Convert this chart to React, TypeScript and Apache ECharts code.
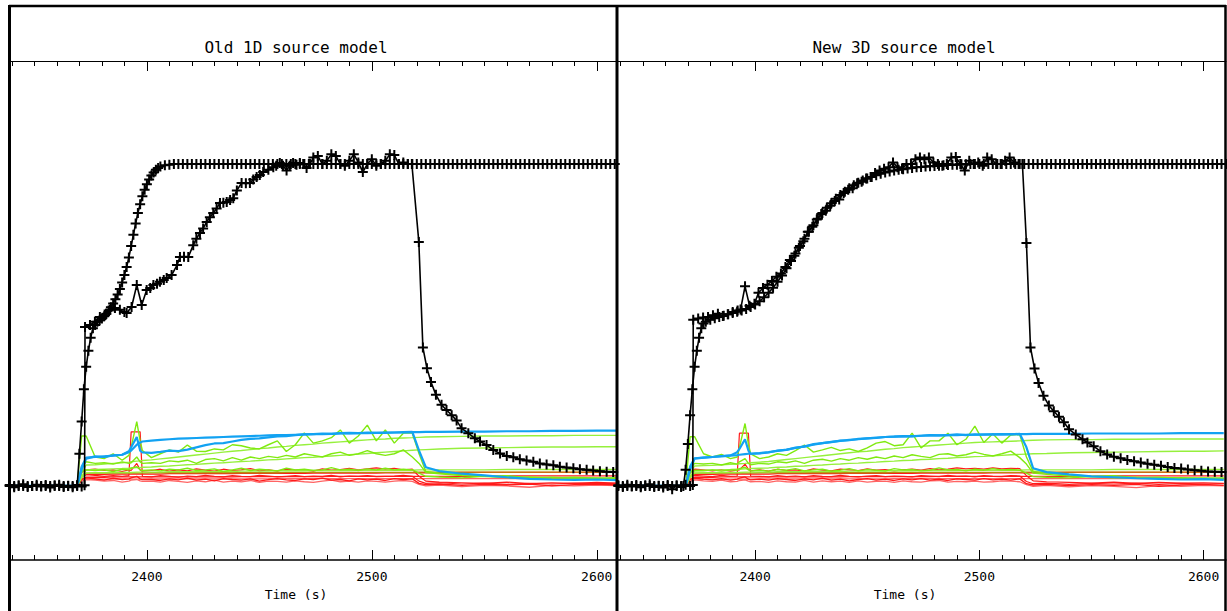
import React, { useEffect, useRef } from "react";
import * as echarts from "echarts";

// ---------- axis / text data ----------
const panelTitles = ["Old 1D source model", "New 3D source model"];
const axisTitle = "Time (s)";
const majorTicks = [2400, 2500, 2600];
const minorTicks = [2340, 2350, 2360, 2370, 2380, 2390, 2410, 2420, 2430, 2440, 2450, 2460, 2470, 2480, 2490, 2510, 2520, 2530, 2540, 2550, 2560, 2570, 2580, 2590];
const leftRange = [2338.7, 2609];
const rightRange = [2338.4, 2610];
const yRange = [-0.23, 1.32];

// ---------- time base of the coloured traces ----------
const colorT = [
  2339, 2369, 2371, 2373,
  2377, 2381, 2385, 2389, 2392, 2393, 2395.5, 2397, 2398,
  2402, 2406, 2410, 2414, 2418, 2422, 2426, 2430, 2434, 2438, 2442, 2446, 2450, 2454, 2458, 2462, 2466, 2470, 2474, 2478, 2482, 2486, 2490, 2494, 2498, 2502, 2506, 2510, 2514, 2518,
  2521, 2524, 2530, 2540, 2550, 2560, 2570, 2580, 2590, 2600, 2609,
];

// ---------- left panel, coloured ----------
const blueModelL = [
  0, 0, 0.06, 0.088,
  0.09, 0.092, 0.094, 0.097, 0.105, 0.11, 0.128, 0.135, 0.138,
  0.141, 0.143, 0.145, 0.147, 0.148, 0.149, 0.15, 0.151, 0.152, 0.153, 0.154, 0.155, 0.156, 0.157, 0.158, 0.158, 0.159, 0.16, 0.161, 0.161, 0.162, 0.163, 0.163, 0.164, 0.164, 0.165, 0.165, 0.166, 0.166, 0.167,
  0.167, 0.168, 0.168, 0.169, 0.169, 0.17, 0.17, 0.171, 0.171, 0.172, 0.172,
];
const blueDataL = [
  0, 0, 0.05, 0.085,
  0.092, 0.09, 0.095, 0.097, 0.108, 0.12, 0.152, 0.11, 0.104,
  0.103, 0.106, 0.11, 0.108, 0.113, 0.12, 0.127, 0.132, 0.133, 0.138, 0.143, 0.146, 0.148, 0.151, 0.154, 0.155, 0.158, 0.16, 0.161, 0.163, 0.162, 0.164, 0.165, 0.164, 0.166, 0.165, 0.166, 0.166, 0.167, 0.168,
  0.11, 0.058, 0.046, 0.038, 0.033, 0.027, 0.022, 0.02, 0.019, 0.02, 0.018,
];
const greenData1L = [
  0, 0, 0.155, 0.155,
  0.09, 0.085, 0.1, 0.08, 0.095, 0.12, 0.2, 0.14, 0.11,
  0.088, 0.1, 0.112, 0.105, 0.127, 0.108, 0.107, 0.115, 0.112, 0.128, 0.125, 0.118, 0.115, 0.128, 0.14, 0.107, 0.128, 0.165, 0.133, 0.14, 0.15, 0.174, 0.133, 0.155, 0.189, 0.14, 0.174, 0.133, 0.164, 0.164,
  0.1, 0.045, 0.04, 0.035, 0.03, 0.032, 0.025, 0.027, 0.024, 0.025, 0.022,
];
const greenData2L = [
  0, 0, 0.06, 0.075,
  0.07, 0.072, 0.068, 0.075, 0.07, 0.072, 0.09, 0.075, 0.07,
  0.072, 0.07, 0.078, 0.075, 0.08, 0.07, 0.082, 0.085, 0.078, 0.088, 0.08, 0.09, 0.085, 0.092, 0.088, 0.095, 0.09, 0.1, 0.095, 0.09, 0.1, 0.105, 0.095, 0.1, 0.11, 0.1, 0.095, 0.1, 0.112, 0.09,
  0.07, 0.042, 0.038, 0.032, 0.03, 0.028, 0.025, 0.026, 0.024, 0.022, 0.023,
];
const greenData3L = [
  0, 0, 0.045, 0.05,
  0.048, 0.05, 0.045, 0.052, 0.05, 0.055, 0.06, 0.05, 0.048,
  0.05, 0.047, 0.052, 0.05, 0.055, 0.048, 0.05, 0.053, 0.045, 0.05, 0.055, 0.048, 0.052, 0.05, 0.047, 0.055, 0.05, 0.052, 0.048, 0.05, 0.057, 0.05, 0.052, 0.048, 0.053, 0.05, 0.055, 0.05, 0.052, 0.05,
  0.04, 0.03, 0.028, 0.025, 0.03, 0.026, 0.028, 0.025, 0.027, 0.024, 0.026,
];
const greenModel1L = [
  0, 0, 0.04, 0.065,
  0.066, 0.068, 0.07, 0.072, 0.074, 0.075, 0.077, 0.078, 0.079,
  0.081, 0.084, 0.087, 0.09, 0.093, 0.096, 0.099, 0.102, 0.105, 0.108, 0.11, 0.113, 0.116, 0.118, 0.121, 0.123, 0.126, 0.128, 0.13, 0.133, 0.135, 0.137, 0.139, 0.141, 0.143, 0.145, 0.146, 0.148, 0.149, 0.15,
  0.151, 0.152, 0.153, 0.154, 0.155, 0.155, 0.156, 0.156, 0.157, 0.157, 0.157,
];
const greenModel2L = [
  0, 0, 0.03, 0.05,
  0.051, 0.052, 0.053, 0.054, 0.055, 0.056, 0.057, 0.057, 0.058,
  0.059, 0.061, 0.062, 0.064, 0.066, 0.067, 0.069, 0.071, 0.072, 0.074, 0.076, 0.077, 0.079, 0.081, 0.082, 0.084, 0.086, 0.088, 0.089, 0.091, 0.093, 0.095, 0.097, 0.099, 0.101, 0.103, 0.105, 0.107, 0.109, 0.111,
  0.112, 0.113, 0.115, 0.117, 0.118, 0.119, 0.12, 0.121, 0.121, 0.122, 0.122,
];
const greenModel3 = [
  0, 0, 0.025, 0.04,
  0.041, 0.041, 0.042, 0.042, 0.042, 0.042, 0.043, 0.043, 0.043,
  0.043, 0.043, 0.044, 0.044, 0.044, 0.044, 0.045, 0.045, 0.045, 0.045, 0.046, 0.046, 0.046, 0.046, 0.047, 0.047, 0.047, 0.047, 0.048, 0.048, 0.048, 0.048, 0.048, 0.049, 0.049, 0.049, 0.049, 0.049, 0.049, 0.049,
  0.05, 0.05, 0.05, 0.05, 0.05, 0.051, 0.051, 0.051, 0.051, 0.051, 0.051,
];
const redBoxL = [
  0, 0, 0.03, 0.035,
  0.033, 0.03, 0.032, 0.03, 0.032, 0.168, 0.168, 0.168, 0.03,
  0.028, 0.032, 0.03, 0.027, 0.031, 0.029, 0.033, 0.03, 0.028, 0.032, 0.03, 0.029, 0.033, 0.031, 0.028, 0.03, 0.032, 0.029, 0.031, 0.03, 0.033, 0.028, 0.031, 0.03, 0.032, 0.029, 0.03, 0.031, 0.033, 0.03,
  0.015, 0.008, 0.01, 0.006, 0.009, 0.005, 0.008, 0.006, 0.009, 0.007, 0.008,
];
const redData1L = [
  0, 0, 0.04, 0.05,
  0.052, 0.048, 0.05, 0.045, 0.05, 0.048, 0.07, 0.05, 0.046,
  0.048, 0.052, 0.046, 0.05, 0.047, 0.053, 0.049, 0.046, 0.052, 0.048, 0.05, 0.054, 0.047, 0.05, 0.046, 0.052, 0.049, 0.05, 0.046, 0.053, 0.049, 0.051, 0.055, 0.05, 0.053, 0.056, 0.052, 0.055, 0.05, 0.052,
  0.03, 0.015, 0.012, 0.01, 0.008, 0.012, 0.007, 0.01, 0.008, 0.011, 0.009,
];
const redData2L = [
  0, 0, 0.02, 0.025,
  0.022, 0.018, 0.024, 0.02, 0.022, 0.025, 0.03, 0.022, 0.02,
  0.02, 0.017, 0.022, 0.019, 0.024, 0.018, 0.021, 0.016, 0.023, 0.02, 0.018, 0.022, 0.015, 0.02, 0.023, 0.019, 0.017, 0.022, 0.02, 0.024, 0.018, 0.02, 0.016, 0.022, 0.019, 0.021, 0.017, 0.023, 0.02, 0.022,
  0.008, 0.004, 0.006, 0.002, 0.005, 0.003, 0.006, 0.0, 0.004, 0.006, 0.003,
];
const redData3L = [
  0, 0, 0.015, 0.02,
  0.018, 0.015, 0.017, 0.012, 0.015, 0.018, 0.02, 0.016, 0.014,
  0.015, 0.012, 0.017, 0.014, 0.011, 0.016, 0.013, 0.018, 0.012, 0.015, 0.013, 0.017, 0.011, 0.015, 0.014, 0.012, 0.016, 0.013, 0.011, 0.015, 0.018, 0.013, 0.015, 0.012, 0.016, 0.014, 0.012, 0.015, 0.017, 0.014,
  0.005, 0.0, 0.003, -0.002, 0.002, 0.0, -0.004, 0.002, 0.0, 0.003, 0.001,
];
const redModel1 = [
  0, 0, 0.03, 0.036,
  0.036, 0.036, 0.037, 0.037, 0.037, 0.037, 0.037, 0.037, 0.037,
  0.037, 0.037, 0.038, 0.038, 0.038, 0.038, 0.038, 0.038, 0.038, 0.038, 0.039, 0.039, 0.039, 0.039, 0.039, 0.039, 0.039, 0.039, 0.04, 0.04, 0.04, 0.04, 0.04, 0.04, 0.04, 0.04, 0.041, 0.041, 0.041, 0.041,
  0.041, 0.041, 0.041, 0.042, 0.042, 0.042, 0.042, 0.042, 0.042, 0.042, 0.042,
];
const redModel2 = [
  0, 0, 0.022, 0.027,
  0.027, 0.027, 0.028, 0.028, 0.028, 0.028, 0.028, 0.028, 0.028,
  0.028, 0.028, 0.028, 0.028, 0.028, 0.028, 0.028, 0.028, 0.028, 0.028, 0.029, 0.029, 0.029, 0.029, 0.029, 0.029, 0.029, 0.029, 0.029, 0.029, 0.03, 0.03, 0.03, 0.03, 0.03, 0.03, 0.03, 0.03, 0.03, 0.03,
  0.03, 0.03, 0.03, 0.03, 0.03, 0.031, 0.031, 0.031, 0.031, 0.031, 0.031,
];
const redModel3 = [
  0, 0, 0.018, 0.021,
  0.021, 0.021, 0.021, 0.021, 0.021, 0.021, 0.021, 0.021, 0.021,
  0.022, 0.022, 0.022, 0.022, 0.022, 0.022, 0.022, 0.022, 0.022, 0.022, 0.022, 0.022, 0.022, 0.022, 0.022, 0.023, 0.023, 0.023, 0.023, 0.023, 0.023, 0.023, 0.023, 0.023, 0.023, 0.023, 0.023, 0.023, 0.023, 0.023,
  0.023, 0.023, 0.023, 0.023, 0.023, 0.023, 0.023, 0.023, 0.023, 0.023, 0.023,
];
const oliveModel = [
  0, 0, 0.03, 0.04,
  0.04, 0.04, 0.04, 0.04, 0.04, 0.04, 0.04, 0.04, 0.04,
  0.041, 0.041, 0.041, 0.041, 0.041, 0.041, 0.041, 0.041, 0.041, 0.041, 0.041, 0.041, 0.041, 0.041, 0.041, 0.042, 0.042, 0.042, 0.042, 0.042, 0.042, 0.042, 0.042, 0.042, 0.042, 0.042, 0.042, 0.042, 0.042, 0.042,
  0.043, 0.043, 0.043, 0.043, 0.043, 0.043, 0.043, 0.043, 0.043, 0.043, 0.043,
];

// ---------- right panel, coloured ----------
const blueModelR = [
  0, 0, 0.06, 0.086,
  0.088, 0.09, 0.092, 0.094, 0.096, 0.097, 0.099, 0.1, 0.1,
  0.102, 0.105, 0.109, 0.113, 0.118, 0.123, 0.128, 0.133, 0.137, 0.14, 0.143, 0.145, 0.148, 0.15, 0.152, 0.153, 0.154, 0.155, 0.156, 0.157, 0.157, 0.158, 0.158, 0.159, 0.159, 0.16, 0.16, 0.16, 0.161, 0.161,
  0.161, 0.162, 0.162, 0.162, 0.163, 0.163, 0.163, 0.163, 0.164, 0.164, 0.164,
];
const blueDataR = [
  0, 0, 0.05, 0.085,
  0.088, 0.09, 0.093, 0.095, 0.105, 0.115, 0.145, 0.11, 0.1,
  0.101, 0.104, 0.11, 0.112, 0.119, 0.122, 0.13, 0.133, 0.136, 0.141, 0.142, 0.146, 0.148, 0.149, 0.152, 0.153, 0.155, 0.154, 0.156, 0.158, 0.157, 0.158, 0.16, 0.158, 0.16, 0.159, 0.16, 0.161, 0.16, 0.162,
  0.12, 0.055, 0.043, 0.036, 0.03, 0.027, 0.024, 0.022, 0.02, 0.021, 0.019,
];
const greenData1R = [
  0, 0, 0.153, 0.153,
  0.1, 0.09, 0.098, 0.085, 0.09, 0.12, 0.194, 0.13, 0.1,
  0.085, 0.09, 0.1, 0.095, 0.11, 0.127, 0.105, 0.112, 0.12, 0.11, 0.115, 0.107, 0.118, 0.133, 0.138, 0.125, 0.128, 0.164, 0.118, 0.14, 0.14, 0.164, 0.128, 0.145, 0.186, 0.135, 0.162, 0.133, 0.158, 0.16,
  0.09, 0.045, 0.04, 0.035, 0.03, 0.032, 0.026, 0.027, 0.024, 0.025, 0.023,
];
const greenData2R = [
  0, 0, 0.055, 0.07,
  0.068, 0.07, 0.065, 0.072, 0.068, 0.075, 0.085, 0.07, 0.066,
  0.07, 0.068, 0.075, 0.072, 0.078, 0.07, 0.08, 0.083, 0.077, 0.085, 0.08, 0.088, 0.083, 0.09, 0.085, 0.093, 0.088, 0.097, 0.092, 0.088, 0.098, 0.1, 0.093, 0.097, 0.105, 0.098, 0.093, 0.1, 0.108, 0.088,
  0.068, 0.04, 0.036, 0.031, 0.029, 0.027, 0.025, 0.026, 0.023, 0.022, 0.022,
];
const greenData3R = [
  0, 0, 0.043, 0.048,
  0.047, 0.05, 0.046, 0.05, 0.049, 0.054, 0.058, 0.05, 0.047,
  0.049, 0.046, 0.051, 0.049, 0.054, 0.047, 0.05, 0.052, 0.046, 0.049, 0.054, 0.047, 0.051, 0.049, 0.046, 0.054, 0.05, 0.051, 0.047, 0.049, 0.056, 0.05, 0.051, 0.047, 0.052, 0.049, 0.054, 0.05, 0.051, 0.049,
  0.04, 0.029, 0.027, 0.025, 0.029, 0.025, 0.027, 0.024, 0.026, 0.023, 0.025,
];
const greenModel1R = [
  0, 0, 0.04, 0.062,
  0.063, 0.064, 0.066, 0.067, 0.068, 0.069, 0.07, 0.071, 0.072,
  0.074, 0.076, 0.079, 0.082, 0.085, 0.088, 0.091, 0.094, 0.097, 0.1, 0.103, 0.106, 0.108, 0.111, 0.114, 0.116, 0.119, 0.121, 0.123, 0.125, 0.127, 0.129, 0.131, 0.133, 0.135, 0.136, 0.137, 0.138, 0.139, 0.14,
  0.141, 0.142, 0.143, 0.144, 0.144, 0.145, 0.145, 0.146, 0.146, 0.146, 0.146,
];
const greenModel2R = [
  0, 0, 0.03, 0.048,
  0.049, 0.05, 0.05, 0.051, 0.052, 0.052, 0.053, 0.053, 0.054,
  0.055, 0.056, 0.058, 0.059, 0.061, 0.062, 0.064, 0.065, 0.067, 0.068, 0.07, 0.071, 0.073, 0.074, 0.076, 0.077, 0.079, 0.08, 0.082, 0.083, 0.085, 0.086, 0.088, 0.089, 0.091, 0.092, 0.094, 0.095, 0.097, 0.098,
  0.099, 0.1, 0.101, 0.103, 0.104, 0.105, 0.106, 0.107, 0.108, 0.108, 0.109,
];
const redBoxR = [
  0, 0, 0.028, 0.033,
  0.031, 0.029, 0.033, 0.03, 0.031, 0.164, 0.164, 0.164, 0.031,
  0.03, 0.028, 0.032, 0.029, 0.031, 0.028, 0.032, 0.03, 0.029, 0.033, 0.03, 0.028, 0.031, 0.032, 0.029, 0.031, 0.03, 0.028, 0.032, 0.031, 0.029, 0.033, 0.03, 0.031, 0.028, 0.032, 0.03, 0.029, 0.032, 0.031,
  0.014, 0.007, 0.009, 0.005, 0.008, 0.006, 0.009, 0.005, 0.008, 0.006, 0.007,
];
const redData1R = [
  0, 0, 0.04, 0.052,
  0.05, 0.047, 0.051, 0.046, 0.049, 0.05, 0.068, 0.052, 0.047,
  0.05, 0.046, 0.052, 0.048, 0.05, 0.046, 0.053, 0.049, 0.047, 0.052, 0.05, 0.048, 0.053, 0.049, 0.051, 0.047, 0.05, 0.052, 0.049, 0.054, 0.05, 0.052, 0.056, 0.053, 0.055, 0.052, 0.056, 0.053, 0.055, 0.054,
  0.032, 0.016, 0.013, 0.011, 0.009, 0.012, 0.008, 0.011, 0.009, 0.01, 0.008,
];
const redData2R = [
  0, 0, 0.02, 0.024,
  0.021, 0.019, 0.023, 0.018, 0.021, 0.024, 0.028, 0.021, 0.019,
  0.021, 0.018, 0.023, 0.02, 0.017, 0.022, 0.019, 0.024, 0.018, 0.021, 0.016, 0.02, 0.023, 0.018, 0.021, 0.017, 0.022, 0.019, 0.023, 0.018, 0.021, 0.017, 0.022, 0.02, 0.018, 0.023, 0.019, 0.021, 0.018, 0.022,
  0.007, 0.003, 0.005, 0.001, 0.004, 0.002, 0.005, -0.001, 0.003, 0.005, 0.002,
];
const redData3R = [
  0, 0, 0.014, 0.019,
  0.016, 0.014, 0.018, 0.013, 0.014, 0.017, 0.019, 0.015, 0.013,
  0.014, 0.011, 0.016, 0.013, 0.012, 0.017, 0.012, 0.016, 0.013, 0.015, 0.011, 0.016, 0.012, 0.014, 0.015, 0.011, 0.016, 0.013, 0.012, 0.016, 0.017, 0.012, 0.014, 0.013, 0.015, 0.012, 0.013, 0.016, 0.015, 0.013,
  0.004, -0.001, 0.002, -0.003, 0.001, -0.001, -0.005, 0.001, -0.001, 0.002, 0.0,
];

// ---------- black traces: [time, value] ----------
const leftModelPts = [
  [2339, 0], [2341, 0], [2343, 0], [2345, 0], [2347, 0], [2349, 0], [2351, 0], [2353, 0], [2355, 0], [2357, 0], [2359, 0], [2361, 0], [2363, 0], [2365, 0], [2367, 0], [2369, 0],
  [2370, 0.1], [2371, 0.2], [2372, 0.3], [2373, 0.37], [2374, 0.42], [2375, 0.46], [2376, 0.49], [2377, 0.5], [2378, 0.51], [2379, 0.515], [2380, 0.52], [2381, 0.527], [2382, 0.535], [2383, 0.545], [2384, 0.555], [2385, 0.567], [2386, 0.58], [2387, 0.595], [2388, 0.612], [2389, 0.632], [2390, 0.655], [2391, 0.68], [2392, 0.71], [2393, 0.745], [2394, 0.78], [2395, 0.815], [2396, 0.848], [2397, 0.875], [2398, 0.9], [2399, 0.92], [2400, 0.937], [2401, 0.952], [2402, 0.964], [2403, 0.974], [2404, 0.982], [2405, 0.988], [2406, 0.992], [2408, 0.996], [2410, 0.998], [2412, 1],
  [2414, 1], [2416, 1], [2418, 1], [2420, 1], [2422, 1], [2424, 1], [2426, 1], [2428, 1], [2430, 1], [2432, 1], [2434, 1], [2436, 1], [2438, 1], [2440, 1], [2442, 1], [2444, 1], [2446, 1], [2448, 1], [2450, 1], [2452, 1], [2454, 1], [2456, 1], [2458, 1], [2460, 1], [2462, 1], [2464, 1], [2466, 1], [2468, 1], [2470, 1], [2472, 1], [2474, 1], [2476, 1], [2478, 1], [2480, 1], [2482, 1], [2484, 1], [2486, 1], [2488, 1], [2490, 1], [2492, 1], [2494, 1], [2496, 1], [2498, 1], [2500, 1], [2502, 1], [2504, 1], [2506, 1], [2508, 1], [2510, 1], [2512, 1], [2514, 1], [2516, 1], [2518, 1], [2520, 1], [2522, 1], [2524, 1], [2526, 1], [2528, 1], [2530, 1], [2532, 1], [2534, 1], [2536, 1], [2538, 1], [2540, 1], [2542, 1], [2544, 1], [2546, 1], [2548, 1], [2550, 1], [2552, 1], [2554, 1], [2556, 1], [2558, 1], [2560, 1], [2562, 1], [2564, 1], [2566, 1], [2568, 1], [2570, 1], [2572, 1], [2574, 1], [2576, 1], [2578, 1], [2580, 1], [2582, 1], [2584, 1], [2586, 1], [2588, 1], [2590, 1], [2592, 1], [2594, 1], [2596, 1], [2598, 1], [2600, 1], [2602, 1], [2604, 1], [2606, 1], [2608, 1],
];
const leftDataPts = [
  [2339, 0.003], [2341, -0.004], [2343, 0.002], [2345, 0.005], [2347, -0.003], [2349, 0], [2351, 0.004], [2353, -0.002], [2355, 0.003], [2357, -0.005], [2359, 0.002], [2361, 0.004], [2363, -0.003], [2365, 0.001], [2367, -0.004], [2369, 0.003], [2371, -0.002], [2372.3, 0.002],
  [2372.5, 0.494], [2374.7, 0.5], [2376.9, 0.51], [2379.1, 0.525], [2381.4, 0.53], [2383.6, 0.547], [2385.8, 0.553], [2388, 0.547], [2390, 0.54], [2391, 0.537], [2393.2, 0.556], [2395.5, 0.624], [2397.7, 0.562], [2399.9, 0.609], [2401.5, 0.615], [2402.9, 0.624], [2404.5, 0.628], [2405.8, 0.634], [2407.5, 0.64], [2408.8, 0.646], [2411, 0.655], [2413.4, 0.686], [2414.7, 0.711], [2416.5, 0.712], [2418.4, 0.711], [2420.6, 0.748], [2422, 0.768], [2423.6, 0.786], [2425, 0.8], [2426.6, 0.82], [2428, 0.835], [2429.5, 0.848], [2431, 0.862], [2432.5, 0.879], [2434, 0.88], [2435.5, 0.882], [2437, 0.888], [2438.4, 0.894], [2440, 0.918], [2442.1, 0.941], [2444, 0.94], [2445.8, 0.941], [2447.3, 0.952], [2448.8, 0.96], [2450.2, 0.966], [2451.7, 0.975], [2454, 0.982], [2456.2, 0.99], [2457.5, 0.995], [2459.1, 1.003], [2460.5, 0.995], [2462.1, 0.98], [2463.5, 0.995], [2465, 1.003], [2466.5, 0.998], [2468, 1.003], [2469.5, 1.0], [2471, 0.988], [2472.5, 1.0], [2474, 1.02], [2476, 1.025], [2478, 1.0], [2480, 1.01], [2482, 1.03], [2484, 1.025], [2486, 1.0], [2488, 0.995], [2490, 1.01], [2492, 1.03], [2494, 1.005], [2496, 0.975], [2498, 1.0], [2500, 1.015], [2502, 0.995], [2504, 1.0], [2506, 1.01], [2508, 1.03], [2510, 1.028], [2512, 1.0], [2514, 1.005], [2516, 1.0], [2517.8, 1.0],
  [2520.9, 0.758], [2522.7, 0.43], [2524.5, 0.366], [2526.3, 0.323], [2528.5, 0.283], [2531, 0.252], [2533.2, 0.236], [2535.5, 0.22], [2537.7, 0.203], [2539.9, 0.179], [2542.9, 0.164], [2545.8, 0.148], [2548.1, 0.138], [2551, 0.127], [2554, 0.112], [2557, 0.101], [2560, 0.093], [2562.9, 0.089], [2565.8, 0.083], [2568.8, 0.079], [2571.8, 0.075], [2574.7, 0.07], [2577.7, 0.067], [2580.7, 0.064], [2583.6, 0.06], [2586.6, 0.057], [2589.6, 0.055], [2592.5, 0.052], [2595.5, 0.05], [2598.4, 0.048], [2601.4, 0.046], [2604.4, 0.044], [2607.3, 0.043],
];
const rightModelPts = [
  [2339, 0], [2341, 0], [2343, 0], [2345, 0], [2347, 0], [2349, 0], [2351, 0], [2353, 0], [2355, 0], [2357, 0], [2359, 0], [2361, 0], [2363, 0], [2365, 0], [2367, 0], [2368, 0],
  [2369, 0.05], [2370, 0.13], [2371, 0.22], [2372, 0.3], [2373, 0.37], [2374, 0.42], [2375, 0.46], [2376, 0.49], [2377, 0.505], [2378, 0.51], [2380, 0.516], [2382, 0.521], [2384, 0.525], [2386, 0.529], [2388, 0.533], [2390, 0.537], [2392, 0.541], [2394, 0.545], [2396, 0.55], [2398, 0.556], [2400, 0.564], [2402, 0.574], [2404, 0.586], [2406, 0.6], [2408, 0.616], [2410, 0.634], [2412, 0.654], [2414, 0.676], [2416, 0.699], [2418, 0.722], [2420, 0.745], [2422, 0.768], [2424, 0.79], [2426, 0.81], [2428, 0.83], [2430, 0.848], [2432, 0.864], [2434, 0.878], [2436, 0.892], [2438, 0.904], [2440, 0.914], [2442, 0.925], [2444, 0.934], [2446, 0.942], [2448, 0.949], [2450, 0.955], [2452, 0.96], [2454, 0.965], [2456, 0.97], [2458, 0.974], [2460, 0.977], [2462, 0.98], [2464, 0.982], [2466, 0.984], [2468, 0.986], [2470, 0.988], [2472, 0.99], [2474, 0.991], [2476, 0.992], [2478, 0.993], [2480, 0.994], [2482, 0.995], [2484, 0.996], [2486, 0.997], [2488, 0.998], [2490, 0.998], [2492, 0.999], [2494, 0.999],
  [2496, 1], [2498, 1], [2500, 1], [2502, 1], [2504, 1], [2506, 1], [2508, 1], [2510, 1], [2512, 1], [2514, 1], [2516, 1], [2518, 1], [2520, 1], [2522, 1], [2524, 1], [2526, 1], [2528, 1], [2530, 1], [2532, 1], [2534, 1], [2536, 1], [2538, 1], [2540, 1], [2542, 1], [2544, 1], [2546, 1], [2548, 1], [2550, 1], [2552, 1], [2554, 1], [2556, 1], [2558, 1], [2560, 1], [2562, 1], [2564, 1], [2566, 1], [2568, 1], [2570, 1], [2572, 1], [2574, 1], [2576, 1], [2578, 1], [2580, 1], [2582, 1], [2584, 1], [2586, 1], [2588, 1], [2590, 1], [2592, 1], [2594, 1], [2596, 1], [2598, 1], [2600, 1], [2602, 1], [2604, 1], [2606, 1], [2608, 1], [2610, 1],
];
const rightDataPts = [
  [2339, 0.002], [2341, -0.003], [2343, 0.004], [2345, -0.002], [2347, 0.003], [2349, -0.004], [2351, 0.002], [2353, 0.005], [2355, -0.003], [2357, 0.001], [2359, -0.005], [2361, 0.003], [2363, -0.01], [2365, 0.002], [2367, -0.003], [2369, 0.004], [2371, 0.0], [2372.2, 0.003],
  [2372.4, 0.516], [2374.6, 0.52], [2376.8, 0.523], [2379, 0.525], [2381.2, 0.53], [2383.4, 0.535], [2385.6, 0.528], [2387.8, 0.533], [2390, 0.54], [2392.2, 0.545], [2393.5, 0.548], [2395.5, 0.62], [2397.5, 0.56], [2399.7, 0.566], [2401.5, 0.6], [2403.5, 0.615], [2405.5, 0.625], [2407.5, 0.637], [2409.5, 0.65], [2411.5, 0.66], [2413.5, 0.68], [2415.5, 0.702], [2417.5, 0.715], [2419.5, 0.74], [2421.5, 0.76], [2423.5, 0.79], [2425.5, 0.805], [2427.5, 0.828], [2429.5, 0.845], [2431.5, 0.855], [2433.5, 0.87], [2435.5, 0.885], [2437.5, 0.89], [2439.5, 0.91], [2441.5, 0.92], [2443.5, 0.925], [2445.5, 0.94], [2447.5, 0.945], [2449.5, 0.955], [2451.5, 0.96], [2453.5, 0.972], [2455.5, 0.98], [2457.5, 0.985], [2459.5, 0.99], [2461.5, 1.005], [2463.5, 0.99], [2465.5, 0.985], [2467.5, 1.0], [2469.5, 1.0], [2471.5, 1.015], [2473.5, 1.02], [2475.5, 1.015], [2477.5, 1.02], [2479.5, 1.005], [2481.5, 1.0], [2483.5, 0.995], [2485.5, 1.0], [2487.5, 1.02], [2489.5, 1.022], [2491.5, 1.0], [2493.5, 0.98], [2495.5, 1.01], [2497.5, 1.0], [2499.5, 1.005], [2501.5, 0.995], [2503.5, 1.02], [2505.5, 1.015], [2507.5, 1.0], [2509.5, 1.0], [2511.5, 1.01], [2513.5, 1.02], [2515.5, 1.005], [2517.5, 1.0], [2519.2, 1.0],
  [2521, 0.755], [2522.8, 0.43], [2524.6, 0.365], [2526.4, 0.32], [2528.6, 0.28], [2531, 0.25], [2533.2, 0.232], [2535.5, 0.215], [2537.7, 0.198], [2540, 0.176], [2543, 0.16], [2546, 0.145], [2548.2, 0.135], [2551, 0.123], [2554, 0.108], [2557, 0.098], [2560, 0.091], [2563, 0.086], [2566, 0.081], [2569, 0.077], [2572, 0.073], [2575, 0.069], [2578, 0.066], [2581, 0.063], [2584, 0.059], [2587, 0.056], [2590, 0.054], [2593, 0.051], [2596, 0.049], [2599, 0.047], [2602, 0.045], [2605, 0.044], [2608, 0.043],
];

// ---------- styling ----------
const FONT = '"DejaVu Sans Mono", monospace';
const PLUS = "path://M-0.2,-1L0.2,-1L0.2,-0.2L1,-0.2L1,0.2L0.2,0.2L0.2,1L-0.2,1L-0.2,0.2L-1,0.2L-1,-0.2L-0.2,-0.2Z";
const BLUE = "#12a2f2";
const GREEN = "#80ea10";
const GREEN_L = "#96f03c";
const RED = "#ff1a1a";
const RED_L = "#ff6464";
const OLIVE = "#b88a10";

function xAxesFor(grid: number, range: number[]) {
  const base = { type: "value", gridIndex: grid, min: range[0], max: range[1], splitLine: { show: false } };
  const tickStyle = { color: "#000", width: 1 };
  return [
    {
      ...base, position: "bottom",
      axisLine: { show: true, onZero: false, lineStyle: { color: "#000", width: 1.5 } },
      axisTick: { show: true, inside: true, length: 10, customValues: majorTicks, lineStyle: tickStyle },
      axisLabel: {
        show: true, customValues: majorTicks, color: "#000", fontSize: 13, fontFamily: FONT, margin: 10,
        formatter: (v: number) => String(Math.round(v)),
      },
    },
    {
      ...base, position: "bottom",
      axisLine: { show: false, onZero: false },
      axisTick: { show: true, inside: true, length: 5, customValues: minorTicks, lineStyle: tickStyle },
      axisLabel: { show: false },
    },
    {
      ...base, position: "top",
      axisLine: { show: true, onZero: false, lineStyle: { color: "#000", width: 1 } },
      axisTick: { show: true, inside: true, length: 10, customValues: majorTicks, lineStyle: tickStyle },
      axisLabel: { show: false },
    },
    {
      ...base, position: "top",
      axisLine: { show: false, onZero: false },
      axisTick: { show: true, inside: true, length: 5, customValues: minorTicks, lineStyle: tickStyle },
      axisLabel: { show: false },
    },
  ];
}

function colored(arr: number[], color: string, width: number, panel: number) {
  return {
    type: "line",
    data: colorT.map((t, i) => [t, arr[i]]),
    xAxisIndex: panel * 4,
    yAxisIndex: panel,
    symbol: "none",
    lineStyle: { color, width },
    itemStyle: { color },
    z: 2,
    silent: true,
  };
}

function black(pts: number[][], panel: number) {
  return {
    type: "line",
    data: pts,
    xAxisIndex: panel * 4,
    yAxisIndex: panel,
    symbol: PLUS,
    symbolSize: 10,
    showSymbol: true,
    lineStyle: { color: "#000", width: 1.6 },
    itemStyle: { color: "#000" },
    z: 5,
    silent: true,
  };
}

function panelSeries(panel: number, d: any) {
  return [
    colored(redModel1, RED, 1.3, panel),
    colored(redModel2, RED, 1.3, panel),
    colored(redModel3, RED_L, 1.3, panel),
    colored(d.r3, RED_L, 1.3, panel),
    colored(d.r2, RED, 1.3, panel),
    colored(d.r1, RED, 1.2, panel),
    colored(d.box, RED, 1.2, panel),
    colored(oliveModel, OLIVE, 1.3, panel),
    colored(greenModel3, GREEN_L, 1.4, panel),
    colored(d.gm2, GREEN_L, 1.4, panel),
    colored(d.gm1, GREEN_L, 1.4, panel),
    colored(d.g3, GREEN, 1.4, panel),
    colored(d.g2, GREEN, 1.4, panel),
    colored(d.g1, GREEN, 1.4, panel),
    colored(d.bm, BLUE, 2.2, panel),
    colored(d.bd, BLUE, 2.2, panel),
    black(d.model, panel),
    black(d.data, panel),
  ];
}

export default function App() {
  const ref = useRef<HTMLDivElement>(null);
  useEffect(() => {
    const chart = echarts.init(ref.current!, null, { renderer: "svg" });
    const line = (x1: number, y1: number, x2: number, y2: number, w: number) => ({
      type: "line", shape: { x1, y1, x2, y2 }, style: { stroke: "#000", lineWidth: w }, z: 100, silent: true,
    });
    const text = (x: number, y: number, s: string, size: number) => ({
      type: "text", x, y, z: 100, silent: true,
      style: { text: s, fill: "#000", fontSize: size, fontFamily: FONT, align: "center", verticalAlign: "middle" },
    });
    const option: any = {
      animation: false,
      backgroundColor: "#fff",
      grid: [
        { left: 9, top: 61, width: 608, height: 499, containLabel: false },
        { left: 617, top: 61, width: 609, height: 499, containLabel: false },
      ],
      xAxis: [...xAxesFor(0, leftRange), ...xAxesFor(1, rightRange)],
      yAxis: [
        { type: "value", gridIndex: 0, min: yRange[0], max: yRange[1], show: false },
        { type: "value", gridIndex: 1, min: yRange[0], max: yRange[1], show: false },
      ],
      series: [
        ...panelSeries(0, {
          r1: redData1L, r2: redData2L, r3: redData3L, box: redBoxL,
          g1: greenData1L, g2: greenData2L, g3: greenData3L, gm1: greenModel1L, gm2: greenModel2L,
          bm: blueModelL, bd: blueDataL, model: leftModelPts, data: leftDataPts,
        }),
        ...panelSeries(1, {
          r1: redData1R, r2: redData2R, r3: redData3R, box: redBoxR,
          g1: greenData1R, g2: greenData2R, g3: greenData3R, gm1: greenModel1R, gm2: greenModel2R,
          bm: blueModelR, bd: blueDataR, model: rightModelPts, data: rightDataPts,
        }),
      ],
      graphic: [
        line(9, 6, 1226, 6, 2.5),
        line(9.5, 5, 9.5, 611, 3),
        line(617, 5, 617, 611, 3),
        line(1225.5, 5, 1225.5, 611, 2.5),
        text(296, 47, panelTitles[0], 16),
        text(904, 47, panelTitles[1], 16),
        text(296, 594, axisTitle, 13),
        text(905, 594, axisTitle, 13),
      ],
    };
    chart.setOption(option);
    return () => chart.dispose();
  }, []);
  return (
    <div
      ref={ref}
      style={{ position: "absolute", left: 0, top: 0, width: 1227, height: 611, background: "#fff" }}
    />
  );
}
